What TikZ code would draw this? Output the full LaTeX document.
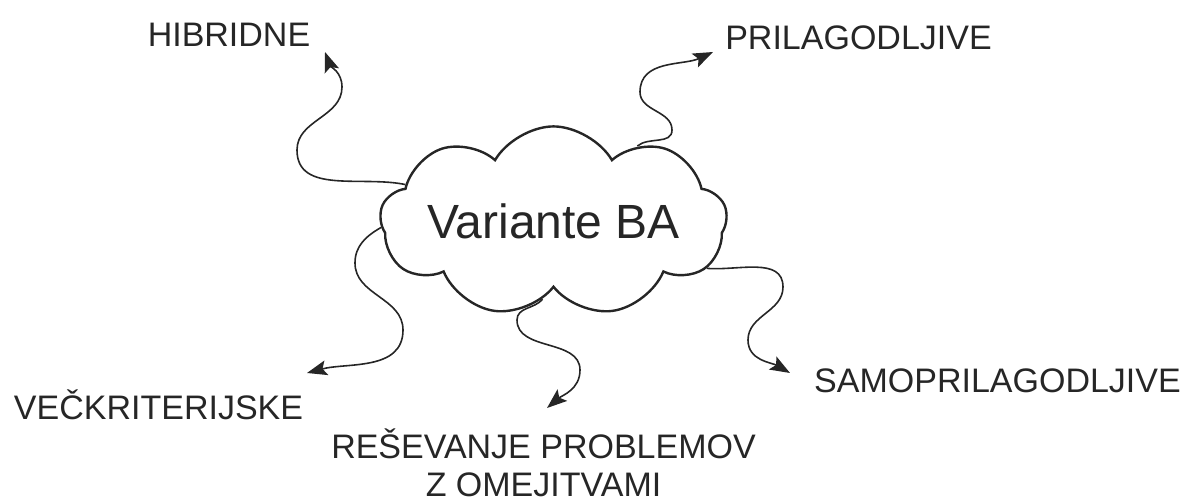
\documentclass[tikz,border=0pt]{standalone}
\usepackage{fontspec}
\setmainfont{Liberation Sans}
\usetikzlibrary{positioning,arrows.meta,shapes.symbols}
\definecolor{ink}{HTML}{262626}
\tikzset{
    on grid,
    x=1pt,
    y=1pt,
    cloudy/.style = {
        draw=ink,
        shape=cloud,
        cloud puffs=9,
        cloud puff arc=120,
        aspect=2.6,
        inner xsep=-6pt,
        inner ysep=1pt,
        minimum width=347pt,
        minimum height=177pt,
        line width=2.4pt,
        text=ink,
        font=\fontsize{48}{56}\selectfont
    },
    tag/.style = {
        shape=rectangle,
        inner sep=0pt,
        text=ink,
        font=\fontsize{34}{38}\selectfont
    },
    tagline/.style = {
        tag,
        text height=24.5pt,
        text depth=0pt
    },
    link/.style = {
        draw=ink,
        line width=1.6pt,
        -{Stealth[length=20pt,width=15pt,inset=4pt]}
    },
}
\begin{document}
\begin{tikzpicture}
            \useasboundingbox (0,0) rectangle (1189,502);
            \node[cloudy] (cva) at (553.5,280.5) {Variante BA};

            \node[tagline, above left=187pt and 324.5pt of cva] (hib) {HIBRIDNE};
            \node[tagline, above right=184pt and 305pt of cva] (pri) {PRILAGODLJIVE};
            \node[tagline, below left=186pt and 395pt of cva] (vec) {VEČKRITERIJSKE};
            \node[tagline, below right=159pt and 444pt of cva] (sam) {SAMOPRILAGODLJIVE};
            \node[tag, align=center, below left=241pt and 10pt of cva] (res) {REŠEVANJE PROBLEMOV\\Z OMEJITVAMI};

            \coordinate (hibtip) at (325,450);
            \coordinate (pritip) at (713,450);
            \coordinate (vectip) at (307,129);
            \coordinate (restip) at (547,94);
            \coordinate (samtip) at (790,129);

            \path[link] (cva.166) to[out=168,in=-90] (297,352) to[out=90,in=-90] (342,415) to[out=90,in=-70] (hibtip);
            \path[link] (cva.42) to[out=40,in=-90] (672,372) to[out=90,in=-90] (640,410) to[out=90,in=-155] (pritip);
            \path[link] (cva.182) to[out=210,in=90] (355,239) to[out=-90,in=90] (403,172) to[out=-90,in=15] (vectip);
            \path[link] (cva.262) to[out=230,in=90] (517,182) to[out=-90,in=90] (580,132) to[out=-90,in=40] (restip);
            \path[link] (cva.343) to[out=-5,in=90] (783,215) to[out=-90,in=90] (748,162) to[out=-90,in=150] (samtip);
        \end{tikzpicture}
\end{document}
